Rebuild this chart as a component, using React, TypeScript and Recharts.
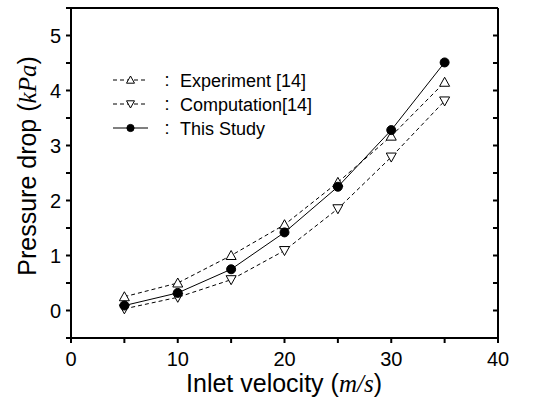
import { LineChart, Line, XAxis, YAxis, ReferenceLine, Label } from 'recharts';

const velocity = [5, 10, 15, 20, 25, 30, 35];
const experiment = [0.25, 0.5, 1.0, 1.56, 2.33, 3.17, 4.15];
const computation = [0.03, 0.24, 0.56, 1.09, 1.85, 2.79, 3.81];
const thisStudy = [0.09, 0.32, 0.75, 1.42, 2.25, 3.28, 4.51];

const xTicks = [0, 5, 10, 15, 20, 25, 30, 35, 40];
const xTickLabels = [0, 10, 20, 30, 40];
const yTicks = [-0.5, 0, 0.5, 1, 1.5, 2, 2.5, 3, 3.5, 4, 4.5, 5, 5.5];
const yTickLabels = [0, 1, 2, 3, 4, 5];
const yDomain = [-0.5, 5.5];

const legendItems = [
  { name: 'Experiment [14]', shape: 'up', dash: '4 3' },
  { name: 'Computation[14]', shape: 'down', dash: '4 3' },
  { name: 'This Study', shape: 'dot', dash: undefined },
];

const data = velocity.map((v, i) => ({
  v,
  exp: experiment[i],
  comp: computation[i],
  study: thisStudy[i],
}));

const SANS = '"Liberation Sans", Arial, sans-serif';
const SERIF = '"Liberation Serif", "Times New Roman", serif';

function Marker({ cx, cy, shape, s = 5 }: any) {
  if (cx == null || cy == null) return null;
  if (shape === 'up') {
    return (
      <polygon
        points={`${cx},${cy - s} ${cx - s},${cy + s * 0.8} ${cx + s},${cy + s * 0.8}`}
        fill="#fff"
        stroke="#000"
        strokeWidth={1}
      />
    );
  }
  if (shape === 'down') {
    return (
      <polygon
        points={`${cx},${cy + s} ${cx - s},${cy - s * 0.8} ${cx + s},${cy - s * 0.8}`}
        fill="#fff"
        stroke="#000"
        strokeWidth={1}
      />
    );
  }
  return <circle cx={cx} cy={cy} r={s * 0.9} fill="#000" stroke="#000" />;
}

const XTick = ({ x, y, payload }: any) =>
  xTickLabels.includes(payload.value) ? (
    <text x={x} y={y + 21} textAnchor="middle" fontFamily={SANS} fontSize={20} fill="#000">
      {payload.value}
    </text>
  ) : (
    <g />
  );

const YTick = ({ x, y, payload }: any) =>
  yTickLabels.includes(payload.value) ? (
    <text x={x} y={y + 7} textAnchor="end" fontFamily={SANS} fontSize={20} fill="#000">
      {payload.value}
    </text>
  ) : (
    <g />
  );

const NoTick = () => <g />;

export default function App() {
  return (
    <div style={{ position: 'relative', width: 543, height: 399 }}>
      <style>{`body{margin:0}`}</style>
      <LineChart width={543} height={399} data={data} margin={{ top: 8, right: 0, bottom: 0, left: 0 }}>
        <XAxis
          dataKey="v"
          type="number"
          domain={[0, 40]}
          ticks={xTicks}
          interval={0}
          tickSize={5}
          tickMargin={2}
          height={61}
          axisLine={{ stroke: '#000', strokeWidth: 2 }}
          tickLine={{ stroke: '#000', strokeWidth: 2 }}
          tick={<XTick />}
        >
          <Label
            content={() => (
              <text x={284} y={392} textAnchor="middle" fontFamily={SANS} fontSize={25} fill="#000">
                Inlet velocity (
                <tspan fontFamily={SERIF} fontStyle="italic">m/s</tspan>)
              </text>
            )}
          />
        </XAxis>
        <YAxis
          yAxisId="l"
          type="number"
          domain={yDomain}
          ticks={yTicks}
          interval={0}
          width={71}
          tickSize={5}
          tickMargin={5}
          axisLine={{ stroke: '#000', strokeWidth: 2 }}
          tickLine={{ stroke: '#000', strokeWidth: 2 }}
          tick={<YTick />}
        >
          <Label
            content={() => (
              <text
                x={27}
                y={166}
                transform="rotate(-90 27 166)"
                textAnchor="middle"
                dominantBaseline="central"
                fontFamily={SANS}
                fontSize={25}
                fill="#000"
              >
                Pressure drop (
                <tspan fontFamily={SERIF} fontStyle="italic">kPa</tspan>)
              </text>
            )}
          />
        </YAxis>
        <YAxis
          yAxisId="r"
          orientation="right"
          type="number"
          domain={yDomain}
          ticks={yTicks}
          interval={0}
          width={45}
          tickSize={-5}
          axisLine={{ stroke: '#000', strokeWidth: 2 }}
          tickLine={{ stroke: '#000', strokeWidth: 2 }}
          tick={<NoTick />}
        />
        <ReferenceLine yAxisId="l" y={5.5} stroke="#000" strokeWidth={2} />
        <Line
          yAxisId="l"
          dataKey="exp"
          stroke="#000"
          strokeWidth={1}
          strokeDasharray="4 3"
          isAnimationActive={false}
          dot={(p: any) => <Marker key={`e${p.index}`} cx={p.cx} cy={p.cy} shape="up" />}
        />
        <Line
          yAxisId="l"
          dataKey="comp"
          stroke="#000"
          strokeWidth={1}
          strokeDasharray="4 3"
          isAnimationActive={false}
          dot={(p: any) => <Marker key={`c${p.index}`} cx={p.cx} cy={p.cy} shape="down" />}
        />
        <Line
          yAxisId="r"
          dataKey="study"
          stroke="#000"
          strokeWidth={1}
          isAnimationActive={false}
          dot={(p: any) => <Marker key={`s${p.index}`} cx={p.cx} cy={p.cy} shape="dot" />}
        />
      </LineChart>
      <svg width={543} height={399} style={{ position: 'absolute', left: 0, top: 0, pointerEvents: 'none' }}>
        {legendItems.map((item, i) => {
          const y = 80 + i * 24;
          return (
            <g key={item.name}>
              <line x1={113} x2={148} y1={y} y2={y} stroke="#000" strokeWidth={1} strokeDasharray={item.dash} />
              <Marker cx={130.5} cy={y} shape={item.shape} s={4} />
              <text x={167} y={y + 6} textAnchor="middle" fontFamily={SANS} fontSize={18} fill="#000">
                :
              </text>
              <text x={180} y={y + 6.5} fontFamily={SANS} fontSize={18} fill="#000">
                {item.name}
              </text>
            </g>
          );
        })}
      </svg>
    </div>
  );
}
